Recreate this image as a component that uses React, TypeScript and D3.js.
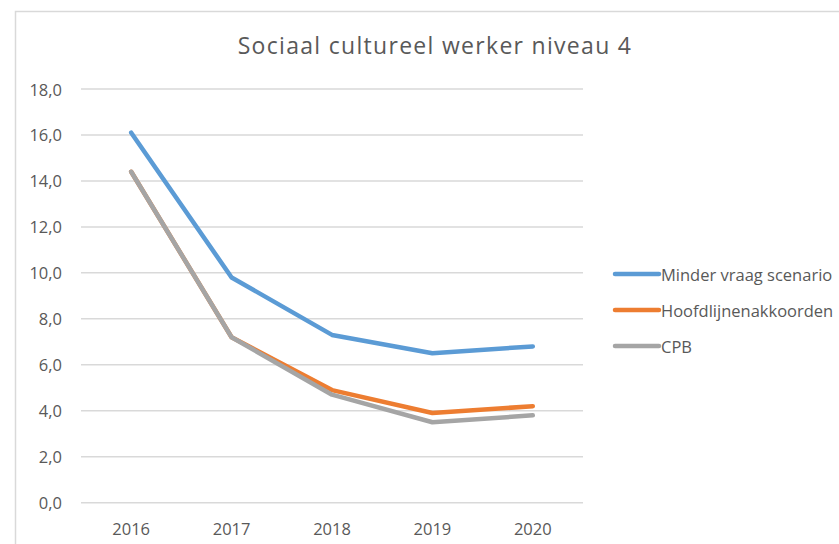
import * as d3 from 'd3'

const years = ['2016', '2017', '2018', '2019', '2020']
const minderVraag = [16.1, 9.8, 7.3, 6.5, 6.8]
const hoofdlijnen = [14.4, 7.2, 4.9, 3.9, 4.2]
const cpb = [14.4, 7.2, 4.7, 3.5, 3.8]
const yTicks = [0, 2, 4, 6, 8, 10, 12, 14, 16, 18]

const seriesNames = ['Minder vraag scenario', 'Hoofdlijnenakkoorden', 'CPB']
const seriesColors = ['#5B9BD5', '#ED7D31', '#A5A5A5']

const W = 839
const H = 544
const FONT = '"Open Sans", sans-serif'
const TEXT = '#595959'

export default function App() {
  const margin = { left: 81, right: 256, top: 89, bottom: 41.3 }
  const x = d3.scaleBand<string>().domain(years).range([margin.left, W - margin.right])
  const y = d3.scaleLinear().domain([0, 18]).range([H - margin.bottom, margin.top])
  const cx = (d: string) => (x(d) ?? 0) + x.bandwidth() / 2

  const line = d3
    .line<number>()
    .x((_, i) => cx(years[i]))
    .y(d => y(d))

  const allSeries = [minderVraag, hoofdlijnen, cpb]
  const fmt = (v: number) => v.toFixed(1).replace('.', ',')

  return (
    <svg
      width={W}
      height={H}
      style={{ position: 'absolute', left: 0, top: 0, background: '#fff' }}
      fontFamily={FONT}
    >
      <rect x={0} y={0} width={W} height={H} fill="#fff" />
      {/* chart area border, runs off the right and bottom */}
      <rect x={15.5} y={11.5} width={W + 20} height={H + 20} fill="none" stroke="#d9d9d9" strokeWidth={1.5} />

      <text
        x={435}
        y={48}
        textAnchor="middle"
        dominantBaseline="middle"
        fontSize={23}
        letterSpacing={1.3}
        fill={TEXT}
      >
        Sociaal cultureel werker niveau 4
      </text>

      {/* gridlines + y labels */}
      {yTicks.map(t => (
        <g key={t}>
          <line
            x1={margin.left}
            x2={W - margin.right}
            y1={y(t)}
            y2={y(t)}
            stroke="#d9d9d9"
            strokeWidth={1.5}
          />
          <text x={62} y={y(t)} textAnchor="end" dominantBaseline="central" fontSize={16.5} fill={TEXT}>
            {fmt(t)}
          </text>
        </g>
      ))}

      {/* x labels */}
      {years.map(yr => (
        <text key={yr} x={cx(yr)} y={528} textAnchor="middle" dominantBaseline="central" fontSize={16.5} fill={TEXT}>
          {yr}
        </text>
      ))}

      {/* series */}
      {allSeries.map((s, i) => (
        <path
          key={seriesNames[i]}
          d={line(s) ?? ''}
          fill="none"
          stroke={seriesColors[i]}
          strokeWidth={4.5}
          strokeLinecap="round"
          strokeLinejoin="round"
        />
      ))}

      {/* legend */}
      {seriesNames.map((name, i) => {
        const ly = 274 + i * 36
        return (
          <g key={name}>
            <line x1={615} x2={659} y1={ly} y2={ly} stroke={seriesColors[i]} strokeWidth={4.5} strokeLinecap="round" />
            <text x={661} y={ly} dominantBaseline="central" fontSize={16.5} fill={TEXT}>
              {name}
            </text>
          </g>
        )
      })}
    </svg>
  )
}
